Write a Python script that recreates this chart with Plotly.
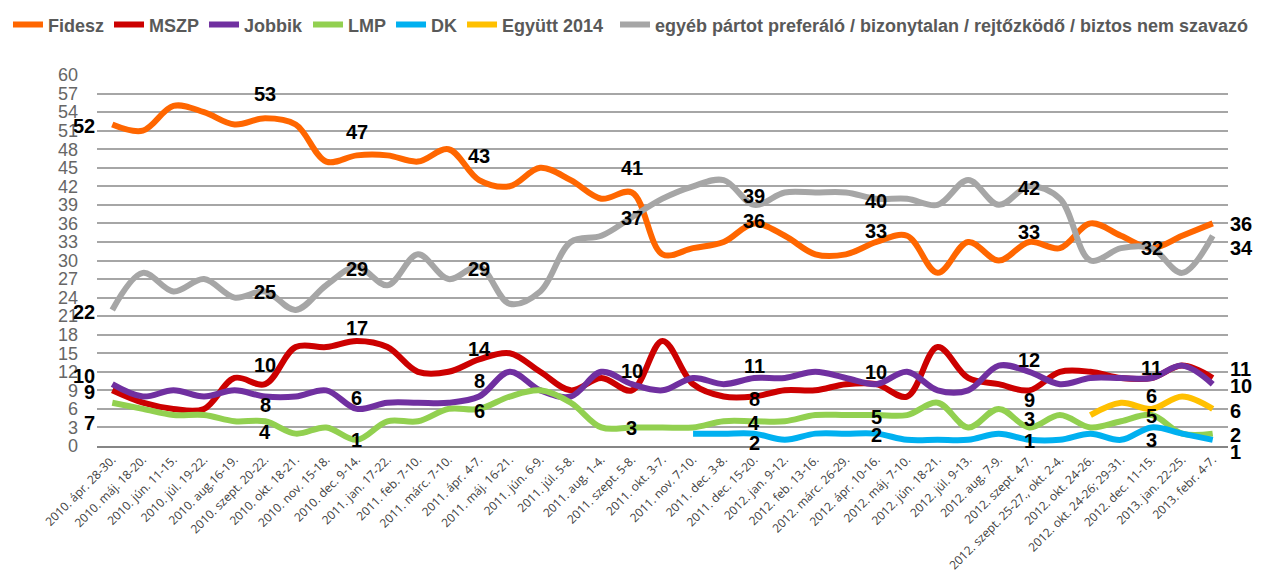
import plotly.graph_objects as go

categories = [
    "2010. ápr. 28-30.", "2010. máj. 18-20.", "2010. jún. 11-15.", "2010. júl. 19-22.",
    "2010. aug.16-19.", "2010. szept. 20-22.", "2010. okt. 18-21.", "2010. nov. 15-18.",
    "2010. dec. 9-14.", "2011. jan. 17-22.", "2011. feb. 7-10.", "2011. márc. 7-10.",
    "2011. ápr. 4-7.", "2011. máj. 16-21.", "2011. jún. 6-9.", "2011. júl. 5-8.",
    "2011. aug. 1-4.", "2011. szept. 5-8.", "2011. okt. 3-7.", "2011. nov. 7-10.",
    "2011. dec. 3-8.", "2011. dec. 15-20.", "2012. jan. 9-12.", "2012. feb. 13-16.",
    "2012. márc. 26-29.", "2012. ápr. 10-16.", "2012. máj. 7-10.", "2012. jún. 18-21.",
    "2012. júl. 9-13.", "2012. aug. 7-9.", "2012. szept. 4-7.", "2012. szept. 25-27., okt. 2-4.",
    "2012. okt. 24-26.", "2012. okt. 24-26; 29-31.", "2012. dec. 11-15.", "2013. jan. 22-25.",
    "2013. febr. 4-7.",
]

fidesz = [52, 51, 55, 54, 52, 53, 52, 46, 47, 47, 46, 48, 43, 42, 45, 43, 40, 41, 31, 32,
          33, 36, 34, 31, 31, 33, 34, 28, 33, 30, 33, 32, 36, 34, 32, 34, 36]
mszp = [9, 7, 6, 6, 11, 10, 16, 16, 17, 16, 12, 12, 14, 15, 12, 9, 11, 9, 17, 10,
        8, 8, 9, 9, 10, 10, 8, 16, 11, 10, 9, 12, 12, 11, 11, 13, 11]
jobbik = [10, 8, 9, 8, 9, 8, 8, 9, 6, 7, 7, 7, 8, 12, 9, 8, 12, 10, 9, 11,
          10, 11, 11, 12, 11, 10, 12, 9, 9, 13, 12, 10, 11, 11, 11, 13, 10]
lmp = [7, 6, 5, 5, 4, 4, 2, 3, 1, 4, 4, 6, 6, 8, 9, 7, 3, 3, 3, 3,
       4, 4, 4, 5, 5, 5, 5, 7, 3, 6, 3, 5, 3, 4, 5, 2, 2]
dk = [None] * 19 + [2, 2, 2, 1, 2, 2, 2, 1, 1, 1, 2, 1, 1, 2, 1, 3, 2, 1]
egyutt = [None] * 32 + [5, 7, 6, 8, 6]
egyeb = [22, 28, 25, 27, 24, 25, 22, 26, 29, 26, 31, 27, 29, 23, 25, 33, 34, 37, 40, 42,
         43, 39, 41, 41, 41, 40, 40, 39, 43, 39, 42, 40, 30, 32, 32, 28, 34]

names = ["Fidesz", "MSZP", "Jobbik", "LMP", "DK", "Együtt 2014",
         "egyéb pártot preferáló / bizonytalan / rejtőzködő / biztos nem szavazó"]
colors = ["#FF6600", "#CC0000", "#7030A0", "#92D050", "#00B0F0", "#FFC000", "#A6A6A6"]
values = [fidesz, mszp, jobbik, lmp, dk, egyutt, egyeb]

# which points carry a data label: (index, side, vertical offset px)
label_specs = [
    [(0, "l", -2), (5, "c", 24), (8, "c", 23), (12, "c", 24), (17, "c", 24), (21, "c", 2),
     (25, "c", 11), (30, "c", 10), (34, "c", 0), (36, "r", -1)],
    [(0, "l", -2), (5, "c", 19), (8, "c", 13), (12, "c", 10), (21, "c", -2), (30, "c", -10),
     (36, "r", 9)],
    [(0, "l", 8), (5, "c", -8), (8, "c", 11), (12, "c", 16), (17, "c", 13), (21, "c", 12),
     (25, "c", 12), (30, "c", 12), (34, "c", 10), (36, "r", -2)],
    [(0, "l", -20), (5, "c", -11), (8, "c", 0), (12, "c", -2), (17, "c", -1), (21, "c", -2),
     (25, "c", -2), (30, "c", 8), (34, "c", -1), (36, "r", -1)],
    [(21, "c", -9), (25, "c", -1), (30, "c", -1), (34, "c", -13), (36, "r", -12)],
    [(34, "c", 13), (36, "r", -2)],
    [(0, "l", -2), (5, "c", -1), (8, "c", -2), (12, "c", -2), (17, "c", -1), (21, "c", 9),
     (25, "c", -2), (30, "c", -2), (36, "r", -12)],
]

fig = go.Figure()
for k, (name, vals, color) in enumerate(zip(names, values, colors)):
    fig.add_trace(go.Scatter(
        x=categories, y=vals, name=name, mode="lines",
        line=dict(color=color, width=6, shape="spline", smoothing=1.0),
        connectgaps=False,
        legend="legend2" if k == 6 else "legend",
    ))

label_font = dict(family="Liberation Sans, Arial, sans-serif", size=20, color="#000000", weight="bold")
for vals, specs in zip(values, label_specs):
    for idx, side, dy in specs:
        v = vals[idx]
        if side == "l":
            xa, xs = "right", -15
        elif side == "r":
            xa, xs = "left", 15
        else:
            xa, xs = "center", 0
        fig.add_annotation(x=categories[idx], y=v, xref="x", yref="y", text=str(v),
                           showarrow=False, xanchor=xa, yanchor="middle",
                           xshift=xs, yshift=dy, font=label_font)

legend_font = dict(family="Liberation Sans, Arial, sans-serif",
                   size=18, color="#595959", weight="bold")

fig.update_layout(
    template="none",
    width=1260, height=568, autosize=False,
    margin=dict(l=89, r=40, t=67, b=130, autoexpand=False),
    paper_bgcolor="white", plot_bgcolor="white",
    showlegend=True,
    legend=dict(orientation="h", x=-0.0787, xanchor="left", xref="paper",
                y=1.135, yref="paper", yanchor="middle",
                font=legend_font, bgcolor="rgba(0,0,0,0)", itemwidth=30,
                traceorder="normal", borderwidth=0),
    legend2=dict(orientation="h", x=0.458, xanchor="left", xref="paper",
                 y=1.135, yref="paper", yanchor="middle",
                 font=legend_font, bgcolor="rgba(0,0,0,0)", itemwidth=30, borderwidth=0),
    xaxis=dict(type="category", range=[-0.5, len(categories) - 0.5], automargin=False,
               showgrid=False, showline=True, linecolor="#868686", linewidth=2,
               tickangle=-45, ticks="", zeroline=False,
               tickfont=dict(family="Open Sans, DejaVu Sans, sans-serif", size=12, color="#404040")),
    yaxis=dict(range=[0, 60], tickmode="array", tickvals=list(range(0, 61, 3)), automargin=False,
               showgrid=True, gridcolor="#A6A6A6", gridwidth=1.5, zeroline=False,
               showline=False, ticks="", ticklabelstandoff=18,
               tickfont=dict(family="Liberation Sans, Arial, sans-serif", size=18, color="#666666")),
)

fig.write_html("out.html")
